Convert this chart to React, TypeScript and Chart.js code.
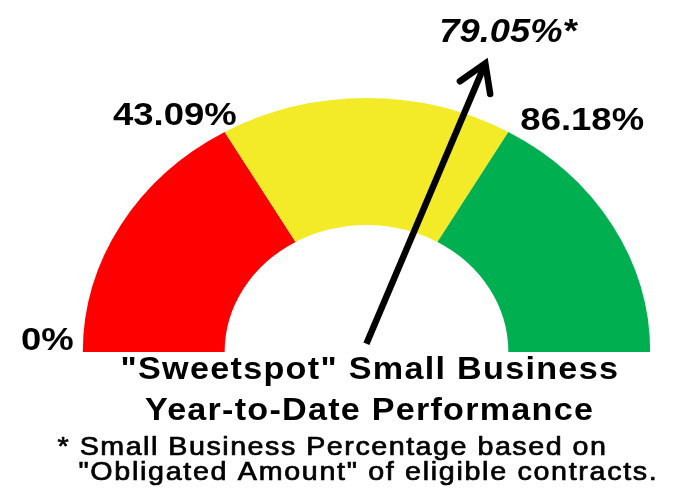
import React, { useEffect, useRef } from 'react';
import { Chart, registerables } from 'chart.js';

Chart.register(...registerables);

// ---- data ----
const bandLabels = ['0%', '43.09%', '86.18%'];
const bandSizes = [43.09, 43.09, 43.09];
const bandColors = ['#FF0000', '#F3EB27', '#00B050'];
const currentValue = 79.05;
const currentLabel = '79.05%*';
const titleLines = ['"Sweetspot" Small Business', 'Year-to-Date Performance'];
const footnoteLines = [
  '* Small Business Percentage based on',
  '"Obligated Amount" of eligible contracts.',
];

// ---- style ----
const SQUASH = 0.895;
const FONT = 'Arial, "Liberation Sans", Helvetica, sans-serif';
const STRETCH = 1.12;

function drawText(
  ctx: CanvasRenderingContext2D,
  text: string,
  x: number,
  y: number,
  font: string,
  sx: number,
  spacing: number,
  align: CanvasTextAlign,
  thicken = 0
) {
  ctx.save();
  ctx.font = font;
  ctx.fillStyle = '#000';
  ctx.strokeStyle = '#000';
  ctx.textBaseline = 'alphabetic';
  ctx.textAlign = align;
  if ('letterSpacing' in ctx) (ctx as any).letterSpacing = spacing + 'px';
  ctx.translate(x, y);
  ctx.scale(sx, 1);
  ctx.fillText(text, 0, 0);
  if (thicken > 0) {
    ctx.lineWidth = thicken;
    ctx.lineJoin = 'round';
    ctx.strokeText(text, 0, 0);
  }
  ctx.restore();
}

const gaugePlugin = {
  id: 'gaugeExtras',
  beforeDatasetsDraw(chart: any) {
    const arc = chart.getDatasetMeta(0).data[0];
    const ctx: CanvasRenderingContext2D = chart.ctx;
    ctx.save();
    ctx.translate(arc.x, arc.y);
    ctx.scale(1, SQUASH);
    ctx.translate(-arc.x, -arc.y);
  },
  afterDatasetsDraw(chart: any) {
    const ctx: CanvasRenderingContext2D = chart.ctx;
    ctx.restore();
    const arcs = chart.getDatasetMeta(0).data;
    const cx = arcs[0].x;
    const cy = arcs[0].y;
    const R = arcs[0].outerRadius;
    const px = (a: number, f: number) => cx + Math.cos(a) * R * f;
    const py = (a: number, f: number) => cy + Math.sin(a) * R * SQUASH * f;

    // band labels at band start boundaries
    const labelFont = `bold 32px ${FONT}`;
    arcs.forEach((arc: any, i: number) => {
      const a = arc.startAngle;
      const x = px(a, 1);
      const y = py(a, 1);
      if (i === 0) drawText(ctx, bandLabels[i], x - 9, y - 2, labelFont, 1.14, 0, 'right');
      else if (i === 1) drawText(ctx, bandLabels[i], x + 12, y - 7, labelFont, 1.14, 0, 'right');
      else drawText(ctx, bandLabels[i], x + 12, y - 2, labelFont, 1.14, 0, 'left');
    });

    // needle angle from value
    let acc = 0;
    let ang = arcs[0].startAngle;
    for (let i = 0; i < bandSizes.length; i++) {
      if (currentValue <= acc + bandSizes[i] || i === bandSizes.length - 1) {
        const arc = arcs[i];
        ang = arc.startAngle + ((currentValue - acc) / bandSizes[i]) * (arc.endAngle - arc.startAngle);
        break;
      }
      acc += bandSizes[i];
    }
    const bx = px(ang, 0.03) - 3;
    const by = py(ang, 0.03) - 1;
    const tx = px(ang, 1.21) + 1;
    const ty = py(ang, 1.21);
    const len = Math.hypot(tx - bx, ty - by);
    const ux = (tx - bx) / len;
    const uy = (ty - by) / len;

    ctx.save();
    ctx.strokeStyle = '#000';
    ctx.lineWidth = 6.5;
    ctx.lineCap = 'butt';
    ctx.beginPath();
    ctx.moveTo(bx, by);
    ctx.lineTo(tx - ux * 3, ty - uy * 3);
    ctx.stroke();
    // arrow head
    const wing = 31;
    const th = (32 * Math.PI) / 180;
    const backX = -ux;
    const backY = -uy;
    const w1x = backX * Math.cos(th) - backY * Math.sin(th);
    const w1y = backX * Math.sin(th) + backY * Math.cos(th);
    const w2x = backX * Math.cos(-th) - backY * Math.sin(-th);
    const w2y = backX * Math.sin(-th) + backY * Math.cos(-th);
    ctx.lineWidth = 6.5;
    ctx.lineJoin = 'miter';
    ctx.lineCap = 'round';
    ctx.beginPath();
    ctx.moveTo(tx + w1x * wing, ty + w1y * wing);
    ctx.lineTo(tx, ty);
    ctx.lineTo(tx + w2x * wing, ty + w2y * wing);
    ctx.stroke();
    ctx.restore();

    // current value label
    drawText(ctx, currentLabel, tx - 46, ty - 21, `italic bold 33px ${FONT}`, 1.1, 0, 'left');

    // title
    const titleFont = `bold 30.5px ${FONT}`;
    drawText(ctx, titleLines[0], 120.5, 378.5, titleFont, STRETCH, 1.15, 'left');
    drawText(ctx, titleLines[1], 145, 420, titleFont, STRETCH, 1.1, 'left');

    // footnote
    const noteFont = `25.6px ${FONT}`;
    drawText(ctx, footnoteLines[0], 57.5, 455, noteFont, STRETCH, 1.35, 'left', 0.7);
    drawText(ctx, footnoteLines[1], 78.5, 480, noteFont, STRETCH, 1.5, 'left', 0.7);
  },
};

export default function App() {
  const ref = useRef<HTMLCanvasElement | null>(null);
  useEffect(() => {
    if (!ref.current) return;
    const chart = new Chart(ref.current, {
      type: 'doughnut',
      data: {
        labels: bandLabels,
        datasets: [
          {
            data: bandSizes,
            backgroundColor: bandColors,
            borderWidth: 0,
          },
        ],
      },
      options: {
        responsive: false,
        animation: false,
        rotation: -90,
        circumference: 180,
        cutout: '50%',
        radius: 283.7,
        layout: { padding: { left: 60, right: 0, top: 0, bottom: 76.7 } },
        plugins: {
          legend: { display: false },
          tooltip: { enabled: false },
          title: { display: false },
        },
        events: [],
      },
      plugins: [gaugePlugin],
    });
    return () => chart.destroy();
  }, []);
  return (
    <div
      style={{
        position: 'absolute',
        left: 0,
        top: 0,
        width: 673,
        height: 497,
        background: '#fff',
      }}
    >
      <canvas ref={ref} width={673} height={497} style={{ display: 'block' }} />
    </div>
  );
}
